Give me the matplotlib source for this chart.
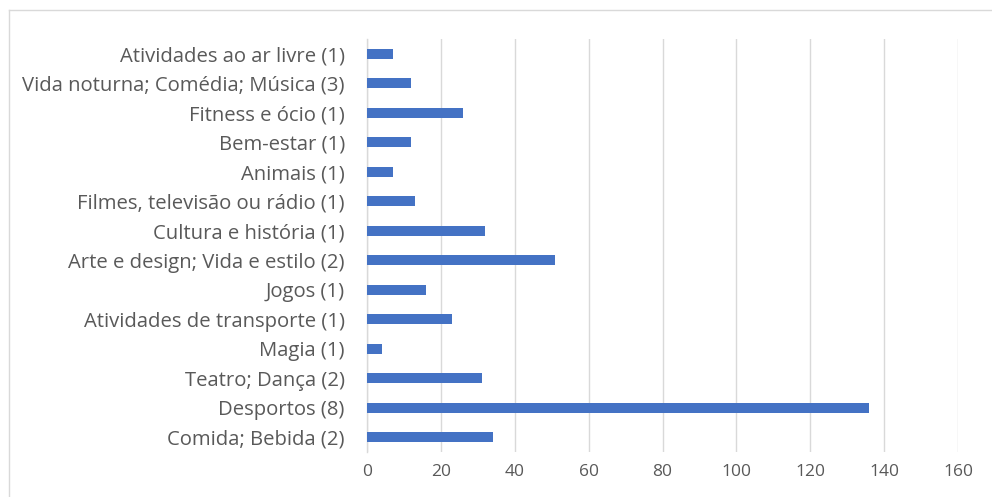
import matplotlib
matplotlib.use("Agg")
import matplotlib.pyplot as plt
from matplotlib.lines import Line2D

categories = [
    "Comida; Bebida (2)",
    "Desportos (8)",
    "Teatro; Dança (2)",
    "Magia (1)",
    "Atividades de transporte (1)",
    "Jogos (1)",
    "Arte e design; Vida e estilo (2)",
    "Cultura e história (1)",
    "Filmes, televisão ou rádio (1)",
    "Animais (1)",
    "Bem-estar (1)",
    "Fitness e ócio (1)",
    "Vida noturna; Comédia; Música (3)",
    "Atividades ao ar livre (1)",
]
values = [34, 136, 31, 4, 23, 16, 51, 32, 13, 7, 12, 26, 12, 7]
x_ticks = [0, 20, 40, 60, 80, 100, 120, 140, 160]

plt.rcParams['font.family'] = ['Open Sans', 'DejaVu Sans']

W, H = 992, 497
fig = plt.figure(figsize=(W / 100, H / 100), dpi=100)
fig.patch.set_facecolor('white')

# outer chart border (top and left visible)
fig.add_artist(Line2D([8.5 / W, 8.5 / W], [0, 1 - 10 / H], transform=fig.transFigure,
                      color='#d9d9d9', lw=1.0))
fig.add_artist(Line2D([8.5 / W, 1], [1 - 10 / H, 1 - 10 / H], transform=fig.transFigure,
                      color='#d9d9d9', lw=1.0))

left, right, top, bottom = 367, 958, 39, 452
ax = fig.add_axes([left / W, 1 - bottom / H, (right - left) / W, (bottom - top) / H])

ypos = list(range(len(categories)))
ax.barh(ypos, values, height=0.355, color='#4472C4', zorder=3)

ax.set_xlim(0, 160)
ax.set_ylim(-0.5, len(categories) - 0.5)
ax.set_xticks(x_ticks)
ax.set_xticklabels([str(t) for t in x_ticks])
ax.set_yticks(ypos)
ax.set_yticklabels(categories)

ax.grid(axis='x', color='#d9d9d9', linewidth=1.0, zorder=0)
ax.grid(axis='y', visible=False)
for s in ['top', 'right', 'bottom']:
    ax.spines[s].set_visible(False)
ax.spines['left'].set_color('#d9d9d9')
ax.spines['left'].set_linewidth(1.0)

ax.tick_params(axis='both', length=0, colors='#595959')
ax.tick_params(axis='y', pad=16, labelsize=14.6)
ax.tick_params(axis='x', pad=9, labelsize=12.5)

fig.savefig('out.png', dpi=100, facecolor='white')
